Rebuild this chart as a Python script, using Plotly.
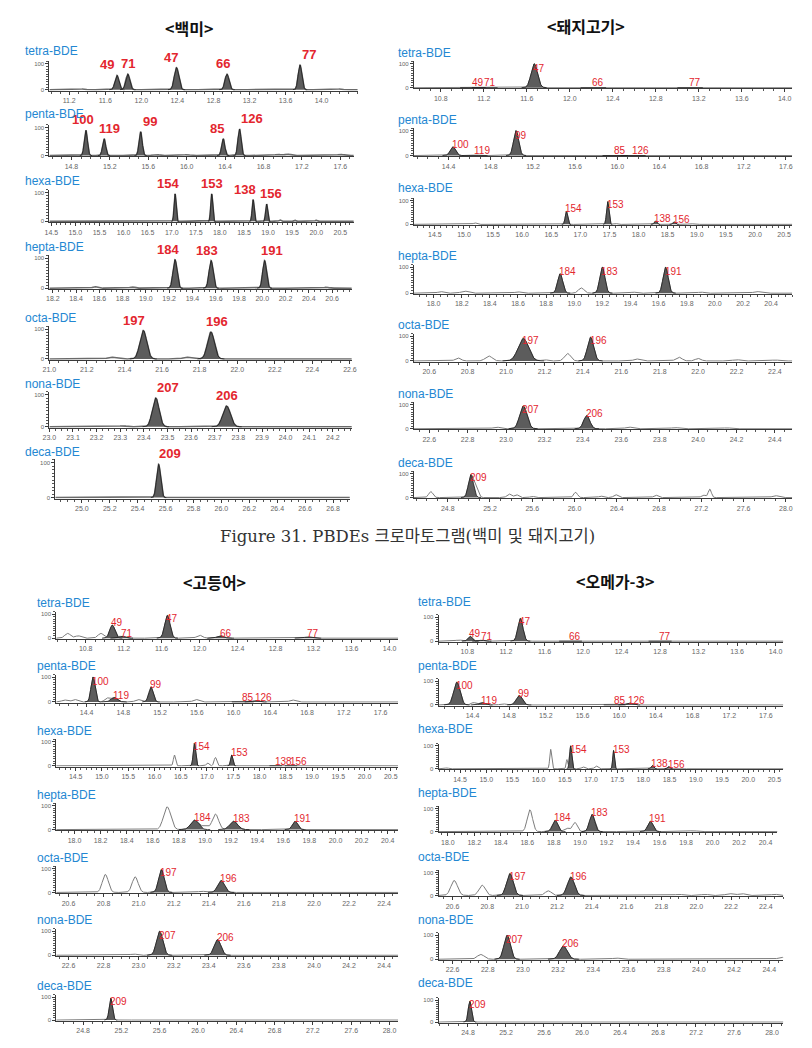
import numpy as np
import plotly.graph_objects as go

W, H = 812, 1048

PANEL_TITLES = ["<백미>", "<돼지고기>", "<고등어>", "<오메가-3>"]
ROW_NAMES = ["tetra-BDE", "penta-BDE", "hexa-BDE", "hepta-BDE", "octa-BDE", "nona-BDE", "deca-BDE"]
ROW_KEYS = ["tetra", "penta", "hexa", "hepta", "octa", "nona", "deca"]
CAPTION = "Figure 31. PBDEs 크로마토그램(백미 및 돼지고기)"

# x tick label series per row: (first, last, step)
RICE_TICKS = [(11.2, 14.0, 0.4), (14.8, 17.6, 0.4), (14.5, 20.5, 0.5), (18.2, 20.6, 0.2),
              (21.0, 22.6, 0.2), (23.0, 24.2, 0.1), (24.8, 26.8, 0.2)]
OTHER_TICKS = [(10.8, 14.0, 0.4), (14.0, 17.6, 0.4), (14.0, 20.5, 0.5), (17.8, 20.4, 0.2),
               (20.6, 22.4, 0.2), (22.6, 24.4, 0.2), (24.8, 28.0, 0.4)]

# labelled congener peaks: (label, retention time, height %, sigma)
RICE_PEAKS = {
    "tetra": [("49", 11.73, 55, .022), ("71", 11.85, 60, .022), ("47", 12.39, 85, .024), ("66", 12.95, 60, .022), ("77", 13.76, 95, .02)],
    "penta": [("100", 14.95, 90, .016), ("119", 15.14, 60, .016), ("99", 15.52, 85, .016), ("85", 16.38, 60, .016), ("126", 16.55, 95, .016)],
    "hexa": [("154", 17.07, 95, .02), ("153", 17.83, 95, .02), ("138", 18.69, 75, .02), ("156", 18.97, 60, .02)],
    "hepta": [("184", 19.25, 95, .017), ("183", 19.56, 92, .017), ("191", 20.02, 92, .016)],
    "octa": [("197", 21.50, 95, .018), ("196", 21.86, 90, .018)],
    "nona": [("207", 23.45, 90, .014), ("206", 23.75, 65, .016)],
    "deca": [("209", 25.55, 95, .014)],
}
# unlabelled signals: (retention time, height %, sigma)
RICE_OTHER = {
    "tetra": [(11.35, 3, .03), (12.1, 2, .03), (13.3, 2, .03), (14.2, 3, .03)],
    "penta": [(15.68, 4, .03), (16.0, 3, .03), (16.95, 4, .03), (17.05, 5, .03), (17.6, 4, .03)],
    "hexa": [(15.3, 2, .03), (19.25, 5, .02), (19.55, 4, .02), (20.0, 4, .02)],
    "hepta": [(18.56, 5, .02), (18.88, 4, .02), (20.55, 3, .02)],
    "octa": [(21.33, 6, .02), (21.73, 6, .02)],
    "nona": [(23.31, 3, .015)],
    "deca": [],
}

PORK_PEAKS = {
    "tetra": [("49", 11.10, 2, .03), ("71", 11.21, 2, .03), ("47", 11.67, 100, .03), ("66", 12.22, 2, .03), ("77", 13.12, 2, .03)],
    "penta": [("100", 14.44, 35, .025), ("119", 14.65, 3, .03), ("99", 15.04, 100, .024), ("85", 15.98, 3, .03), ("126", 16.15, 3, .03)],
    "hexa": [("154", 16.76, 55, .02), ("153", 17.47, 95, .02), ("138", 18.29, 15, .02), ("156", 18.61, 10, .02)],
    "hepta": [("184", 18.90, 75, .018), ("183", 19.20, 100, .018), ("191", 19.65, 100, .018)],
    "octa": [("197", 21.09, 90, .027), ("196", 21.44, 95, .016)],
    "nona": [("207", 23.09, 95, .019), ("206", 23.42, 55, .016)],
    "deca": [("209", 25.02, 95, .024)],
}
PORK_OTHER = {
    "tetra": [(10.9, 3, .03), (11.95, 2, .03), (12.6, 2, .04), (13.5, 2, .04)],
    "penta": [(14.25, 3, .03), (15.35, 3, .03), (16.6, 3, .04), (17.2, 3, .04)],
    "hexa": [(14.6, 3, .03), (15.19, 6, .03), (16.05, 3, .03), (17.6, 4, .03), (18.9, 3, .04), (19.6, 3, .04), (20.2, 3, .04)],
    "hepta": [(18.05, 6, .02), (18.22, 8, .025), (18.6, 5, .02), (19.05, 20, .02), (19.42, 4, .02), (19.9, 4, .02), (20.3, 6, .025)],
    "octa": [(20.75, 12, .015), (20.91, 20, .018), (21.2, 5, .015), (21.32, 30, .016), (21.68, 8, .015), (21.9, 15, .016),
             (22.0, 10, .015), (22.2, 5, .02), (22.4, 4, .02)],
    "nona": [(22.95, 7, .018), (23.64, 7, .018), (23.88, 5, .02), (24.15, 4, .02)],
    "deca": [(24.64, 25, .02), (25.07, 40, .02), (25.38, 15, .02), (25.45, 12, .02), (25.6, 5, .02), (26.01, 22, .018),
             (26.25, 6, .02), (26.39, 12, .02), (26.77, 10, .02), (27.22, 10, .02), (27.28, 35, .015), (27.9, 8, .03)],
}

MACK_PEAKS = {
    "tetra": [("49", 11.08, 55, .027), ("71", 11.18, 8, .03), ("47", 11.66, 95, .028), ("66", 12.22, 10, .035), ("77", 13.14, 5, .035)],
    "penta": [("100", 14.47, 100, .022), ("119", 14.70, 18, .035), ("99", 15.10, 60, .024), ("85", 16.10, 2, .03), ("126", 16.24, 5, .03)],
    "hexa": [("154", 16.76, 95, .022), ("153", 17.47, 45, .02), ("138", 18.31, 2, .03), ("156", 18.60, 2, .03)],
    "hepta": [("184", 18.92, 40, .03), ("183", 19.22, 35, .03), ("191", 19.69, 35, .02)],
    "octa": [("197", 21.13, 95, .016), ("196", 21.47, 50, .019)],
    "nona": [("207", 23.12, 100, .018), ("206", 23.45, 65, .019)],
    "deca": [("209", 25.09, 95, .017)],
}
MACK_OTHER = {
    "tetra": [(10.61, 20, .03), (10.72, 10, .03), (10.96, 20, .03), (12.0, 12, .03)],
    "penta": [(14.16, 8, .03), (14.27, 10, .03), (14.62, 15, .025), (14.96, 10, .03), (15.59, 10, .03), (16.64, 8, .03), (17.3, 3, .04)],
    "hexa": [(16.38, 45, .02), (17.01, 12, .025), (17.16, 35, .025)],
    "hepta": [(18.71, 95, .028), (19.0, 15, .025), (19.08, 65, .024)],
    "octa": [(20.81, 75, .017), (20.98, 65, .017), (21.36, 5, .02)],
    "nona": [(22.97, 5, .02)],
    "deca": [],
}

OMEGA_PEAKS = {
    "tetra": [("49", 10.83, 20, .022), ("71", 10.95, 4, .025), ("47", 11.35, 95, .026), ("66", 11.87, 3, .03), ("77", 12.80, 2, .03)],
    "penta": [("100", 14.23, 95, .035), ("119", 14.50, 10, .03), ("99", 14.91, 40, .033), ("85", 15.95, 3, .03), ("126", 16.11, 8, .03)],
    "hexa": [("154", 16.61, 100, .02), ("153", 17.43, 80, .016), ("138", 18.17, 15, .022), ("156", 18.48, 10, .02)],
    "hepta": [("184", 18.81, 50, .02), ("183", 19.09, 75, .02), ("191", 19.53, 45, .02)],
    "octa": [("197", 20.93, 95, .019), ("196", 21.28, 80, .02)],
    "nona": [("207", 22.91, 100, .018), ("206", 23.23, 55, .022)],
    "deca": [("209", 24.82, 95, .017)],
}
OMEGA_OTHER = {
    "tetra": [(10.71, 5, .03)],
    "penta": [(14.41, 10, .025), (14.73, 5, .03), (15.38, 3, .04), (16.49, 3, .04)],
    "hexa": [(14.25, 4, .03), (16.23, 85, .018), (16.54, 40, .015), (16.85, 8, .03), (17.10, 12, .03)],
    "hepta": [(18.62, 95, .02), (18.90, 15, .02), (18.96, 40, .018), (19.85, 4, .03)],
    "octa": [(20.61, 65, .019), (20.77, 45, .018), (21.15, 20, .018), (21.9, 5, .02), (22.05, 5, .02),
             (22.19, 8, .02), (22.26, 8, .02), (22.45, 5, .02)],
    "nona": [(22.76, 20, .02), (23.53, 5, .02), (24.47, 8, .02)],
    "deca": [],
}

# ---- layout geometry (pixels): x0, x1, range lo, range hi, y of 100, y of 0, label y
GEOM_RICE = [(43, 356, 10.98, 14.40, 63, 89, 50), (43, 352, 14.57, 17.74, 127, 155, 113),
             (43, 352, 14.46, 20.78, 192, 221, 181), (43, 350, 18.17, 20.77, 258, 288, 248),
             (43, 350, 21.0, 22.61, 329, 359, 319), (43, 350, 23.0, 24.28, 395, 427, 386),
             (49, 348, 24.81, 26.92, 463, 498, 455)]
GEOM_PORK = [(413, 797, 10.55, 14.07, 63, 87, 52), (413, 797, 14.07, 17.66, 130, 155, 120),
             (413, 797, 14.14, 20.64, 200, 224, 188), (413, 797, 17.86, 20.55, 267, 293, 257),
             (413, 797, 20.52, 22.49, 336, 361, 326), (413, 797, 22.52, 24.49, 405, 429, 395),
             (413, 797, 24.48, 28.06, 474, 498, 463)]
GEOM_MACK = [(50, 397, 10.49, 14.09, 615, 639, 607), (50, 397, 14.07, 17.79, 678, 703, 670),
             (50, 397, 14.13, 20.64, 743, 767, 733), (50, 397, 17.86, 20.48, 807, 831, 797),
             (50, 397, 20.53, 22.48, 870, 894, 862), (50, 397, 22.53, 24.48, 933, 957, 925),
             (50, 397, 24.52, 28.09, 999, 1022, 988)]
GEOM_OMEGA = [(438, 788, 10.5, 14.08, 618, 642, 603), (438, 788, 14.03, 17.79, 682, 706, 667),
              (438, 788, 14.09, 20.67, 747, 770, 730), (438, 782, 17.93, 20.49, 810, 833, 794),
              (438, 788, 20.52, 22.5, 874, 897, 858), (438, 788, 22.52, 24.48, 937, 961, 922),
              (438, 788, 24.49, 28.12, 1002, 1024, 985)]

# horizontal pixel nudges of the big (rice) peak labels, as placed in the original
RICE_LABEL_NUDGE = {"49": -10, "47": -6, "66": -4, "77": 9, "100": -3, "119": 5, "99": 9, "85": -6,
                    "126": 12, "154": -7, "138": -8, "156": 4, "184": -7, "183": -4, "191": 7,
                    "197": -9, "196": 6, "207": 12, "209": 11}

PANELS = [
    (RICE_TICKS, RICE_PEAKS, RICE_OTHER, GEOM_RICE, 16, True, (185, 27)),
    (OTHER_TICKS, PORK_PEAKS, PORK_OTHER, GEOM_PORK, 395, False, (588, 25)),
    (OTHER_TICKS, MACK_PEAKS, MACK_OTHER, GEOM_MACK, 28, False, (211, 583)),
    (OTHER_TICKS, OMEGA_PEAKS, OMEGA_OTHER, GEOM_OMEGA, 415, False, (617, 582)),
]

RED = "#e3262e"
BLUE = "#2387d2"
YLO, YHI = -3, 110


def gauss(x, c, h, s):
    return h * np.exp(-0.5 * ((x - c) / s) ** 2)


fig = go.Figure()
axes = {}
ann = []
n = 0
for pi, (ticks, peaks, others, geom, lab_x, big, tpos) in enumerate(PANELS):
    ann.append(dict(x=tpos[0] / W, y=1 - tpos[1] / H, xref="paper", yref="paper", text=PANEL_TITLES[pi],
                    showarrow=False, xanchor="center", yanchor="middle",
                    font=dict(family="Noto Sans CJK KR", size=16, color="#111", weight="bold")))
    for r, key in enumerate(ROW_KEYS):
        n += 1
        x0, x1, lo, hi, y100, y0, ly = geom[r]
        xa = "x" if n == 1 else f"x{n}"
        ya = "y" if n == 1 else f"y{n}"
        xs = np.linspace(lo, hi, 1800)
        total = np.zeros_like(xs)
        for (_, c, h, s) in peaks[key]:
            total += gauss(xs, c, h, s)
        for (c, h, s) in others[key]:
            total += gauss(xs, c, h, s)
        fig.add_trace(go.Scatter(x=xs, y=total, mode="lines",
                                 line=dict(color="#6a6a6a" if big else "#7c7c7c", width=1.6 if big else 1.0),
                                 xaxis=xa, yaxis=ya, hoverinfo="skip", showlegend=False))
        for (lab, c, h, s) in peaks[key]:
            m = np.abs(xs - c) < 4 * s
            fig.add_trace(go.Scatter(x=xs[m], y=gauss(xs[m], c, h, s), mode="lines", fill="tozeroy",
                                     fillcolor="#5c5c5c", line=dict(color="#1c1c1c", width=0.8),
                                     xaxis=xa, yaxis=ya, hoverinfo="skip", showlegend=False))
            if big:
                ann.append(dict(x=c, y=h, xref=xa, yref=ya, text=lab, showarrow=False,
                                xanchor="center", yanchor="bottom", yshift=1,
                                xshift=RICE_LABEL_NUDGE.get(lab, 0),
                                font=dict(family="Liberation Sans", size=13, color=RED, weight="bold")))
            else:
                yl = min(max(h + 10, 20), 82)
                ann.append(dict(x=c, y=yl, xref=xa, yref=ya, text=lab, showarrow=False,
                                xanchor="left", yanchor="middle", xshift=-3,
                                font=dict(family="Liberation Sans", size=10, color=RED)))
        # row label
        ly = min(ly, y100 - 11)
        ann.append(dict(x=lab_x / W, y=1 - ly / H, xref="paper", yref="paper", text=ROW_NAMES[r],
                        showarrow=False, xanchor="left", yanchor="middle",
                        font=dict(family="Liberation Sans", size=12, color=BLUE)))
        ppu = (y0 - y100) / 100.0
        top = y100 - (YHI - 100) * ppu
        bot = y0 - YLO * ppu
        first, last, step = ticks[r]
        tv = [round(v, 2) for v in np.arange(first, last + step / 2, step)]
        minor_step = {0.4: 0.1, 0.5: 0.1, 0.2: 0.05, 0.1: 0.025}[step]
        axes["xaxis" if n == 1 else f"xaxis{n}"] = dict(
            domain=[x0 / W, x1 / W], range=[lo, hi], anchor=ya,
            tickvals=tv, ticktext=[f"{v:.1f}" for v in tv],
            showline=True, linecolor="#3a3a3a", linewidth=1, ticks="outside", ticklen=3,
            tickcolor="#3a3a3a", tickfont=dict(family="Liberation Sans", size=7, color="#666"),
            minor=dict(dtick=minor_step, tick0=first, ticks="outside", ticklen=2, tickcolor="#555"),
            showgrid=False, zeroline=False, fixedrange=True)
        axes["yaxis" if n == 1 else f"yaxis{n}"] = dict(
            domain=[1 - bot / H, 1 - top / H], range=[YLO, YHI], anchor=xa,
            tickvals=[0, 100], ticktext=["0", "100"],
            showline=True, linecolor="#3a3a3a", linewidth=1, ticks="outside", ticklen=3,
            tickcolor="#3a3a3a", tickfont=dict(family="Liberation Sans", size=6, color="#666"),
            minor=dict(dtick=10, ticks="outside", ticklen=2, tickcolor="#555"),
            showgrid=False, zeroline=False, fixedrange=True)

ann.append(dict(x=406 / W, y=1 - 537 / H, xref="paper", yref="paper", text=CAPTION, showarrow=False,
                xanchor="center", yanchor="middle",
                font=dict(family="DejaVu Serif, Noto Sans CJK KR", size=16.5, color="#333")))

fig.update_layout(width=W, height=H, margin=dict(l=0, r=0, t=0, b=0),
                  paper_bgcolor="white", plot_bgcolor="white", showlegend=False,
                  annotations=ann, **axes)

fig.write_html("out.html", config={"displayModeBar": False},
               post_script="document.body.style.margin='0';")
